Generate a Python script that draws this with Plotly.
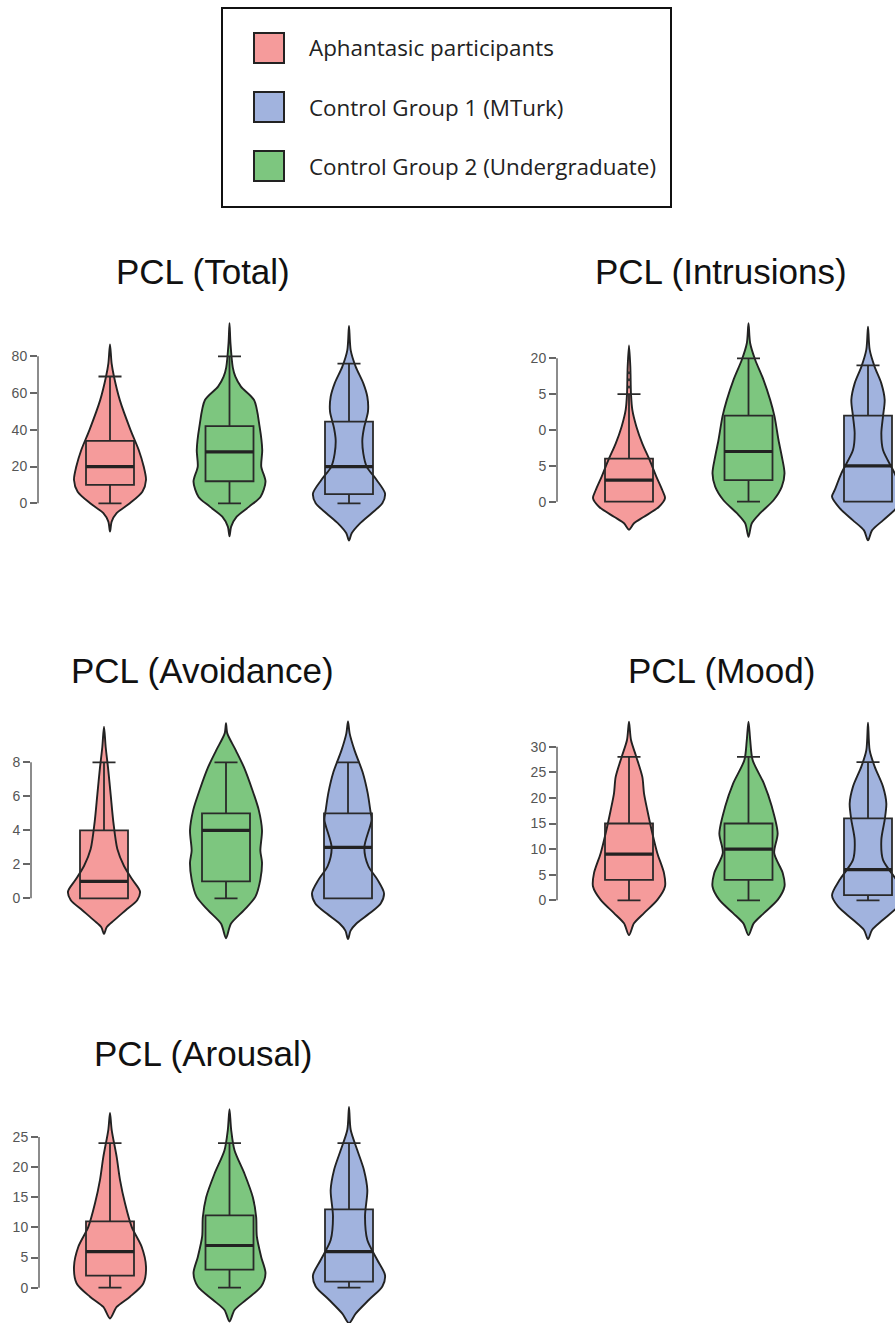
import plotly.graph_objects as go

W, H = 895, 1323

# ---------------- data ----------------
# plot order within each panel: Aphantasic (red), Undergraduate (green), MTurk (blue)
group_names = ["Aphantasic participants", "Control Group 2 (Undergraduate)", "Control Group 1 (MTurk)"]
group_colors = ["#F59B9B", "#7DC67F", "#A1B3DE"]
legend_labels = ["Aphantasic participants", "Control Group 1 (MTurk)", "Control Group 2 (Undergraduate)"]
legend_colors = ["#F59B9B", "#A1B3DE", "#7DC67F"]

panel_titles = ["PCL (Total)", "PCL (Intrusions)", "PCL (Avoidance)", "PCL (Mood)", "PCL (Arousal)"]

# tick values / labels (as printed)
total_ticks = [0, 20, 40, 60, 80]
total_ticktext = ["0", "20", "40", "60", "80"]
intr_ticks = [0, 5, 10, 15, 20]
intr_ticktext = ["0", "5", "0", "5", "20"]
avoid_ticks = [0, 2, 4, 6, 8]
avoid_ticktext = ["0", "2", "4", "6", "8"]
mood_ticks = [0, 5, 10, 15, 20, 25, 30]
mood_ticktext = ["0", "5", "10", "15", "20", "25", "30"]
arou_ticks = [0, 5, 10, 15, 20, 25]
arou_ticktext = ["0", "5", "10", "15", "20", "25"]

# box statistics [aph, undergrad, mturk]
total_q1 = [10, 12, 5]
total_med = [20, 28, 20]
total_q3 = [34, 42, 44.5]
total_lo = [0, 0, 0]
total_hi = [69, 80, 76]

intr_q1 = [0, 3, 0]
intr_med = [3, 7, 5]
intr_q3 = [6, 12, 12]
intr_lo = [0, 0, 0]
intr_hi = [15, 20, 19]
intr_outliers_aph = [16, 17, 18]

avoid_q1 = [0, 1, 0]
avoid_med = [1, 4, 3]
avoid_q3 = [4, 5, 5]
avoid_lo = [0, 0, 0]
avoid_hi = [8, 8, 8]

mood_q1 = [4, 4, 1]
mood_med = [9, 10, 6]
mood_q3 = [15, 15, 16]
mood_lo = [0, 0, 0]
mood_hi = [28, 28, 27]

arou_q1 = [2, 3, 1]
arou_med = [6, 7, 6]
arou_q3 = [11, 12, 13]
arou_lo = [0, 0, 0]
arou_hi = [24, 24, 24]

# violin density profiles: value levels and relative densities
total_aph_y = [86.5, 76, 69, 56, 40, 29, 20, 12.7, 6.3, 0, -5.4, -10, -15.4]
total_aph_d = [0, 5, 12, 30, 62, 87, 102, 109, 98, 60, 20, 5, 0]
total_ug_y = [98, 87, 74, 68.9, 63.5, 56.2, 41.7, 29, 20, 11.8, 3.6, -1.8, -7.3, -12.7, -18]
total_ug_d = [0, 3, 10, 18, 35, 75, 92, 100, 97, 110, 95, 60, 22, 5, 0]
total_mt_y = [96.5, 83.4, 74.4, 65.3, 58, 50, 41, 34.5, 27, 20, 12.7, 5.4, 0, -5.4, -10.9, -16.3, -20.3]
total_mt_d = [0, 5, 20, 43, 55, 57, 45, 40, 43, 53, 83, 108, 100, 68, 33, 8, 0]

intr_aph_y = [21.8, 18.8, 15, 12.8, 10.5, 8.1, 5.8, 3.5, 1.6, 0.5, -0.7, -2.1, -3, -3.9]
intr_aph_d = [0, 4, 6, 10, 22, 40, 62, 82, 100, 108, 90, 45, 15, 0]
intr_ug_y = [24.9, 22.1, 19.8, 17, 14.2, 11.9, 8.6, 6.3, 3.95, 2.1, 0.2, -1.6, -3, -4.9]
intr_ug_d = [0, 5, 20, 45, 65, 78, 90, 100, 108, 100, 75, 35, 10, 0]
intr_mt_y = [24.4, 21.2, 18.8, 16.5, 14.2, 11.9, 9.5, 7.2, 3.95, 1.6, 0.7, -0.9, -2.6, -4, -5.4]
intr_mt_d = [0, 5, 20, 40, 50, 45, 40, 45, 80, 100, 108, 85, 45, 12, 0]

avoid_aph_y = [10.1, 8.9, 7.7, 6.1, 4.5, 2.9, 1.9, 1.1, 0.4, -0.1, -0.7, -1.3, -1.7, -2.1]
avoid_aph_d = [0, 5, 12, 20, 28, 40, 60, 85, 108, 100, 65, 30, 8, 0]
avoid_ug_y = [10.3, 9.7, 8.7, 7.7, 6.4, 5.2, 4, 2.8, 2.1, 1.1, 0.1, -0.7, -1.5, -2.35]
avoid_ug_d = [0, 4, 30, 55, 80, 100, 110, 105, 110, 105, 90, 55, 15, 0]
avoid_mt_y = [10.4, 9.7, 8.7, 7.4, 6.2, 5.2, 4.6, 3, 1.9, 1.1, 0.3, -0.3, -0.9, -1.5, -1.9, -2.4]
avoid_mt_d = [0, 5, 20, 45, 60, 68, 72, 50, 62, 90, 110, 100, 65, 25, 8, 0]

mood_aph_y = [34.9, 31.3, 28, 24.1, 20.9, 17.6, 13.1, 9.2, 5.3, 2.7, 0.07, -2.5, -4.5, -6.8]
mood_aph_d = [0, 6, 22, 40, 45, 55, 70, 85, 105, 108, 85, 45, 15, 0]
mood_ug_y = [34.9, 31.3, 27.4, 22.8, 18.3, 13.1, 9.2, 5.3, 2.7, 0.07, -2.5, -4.5, -6.8]
mood_ug_d = [0, 5, 12, 45, 68, 85, 75, 100, 105, 85, 45, 15, 0]
mood_mt_y = [34.7, 29.3, 26.1, 22.2, 18.9, 15.7, 11.8, 7.9, 4, 1, -1.2, -3.8, -5.8, -7.6]
mood_mt_d = [0, 5, 20, 45, 55, 50, 40, 45, 85, 108, 90, 45, 12, 0]

arou_aph_y = [29, 26.2, 21.7, 17.9, 14, 10.1, 6.8, 3.5, 0.7, -1.5, -3.2, -5.1]
arou_aph_d = [0, 5, 20, 30, 45, 65, 95, 108, 100, 60, 20, 0]
arou_ug_y = [29.6, 26.2, 22.8, 18.9, 15, 11.7, 8.5, 5.1, 2.4, 0.2, -2, -3.7, -5.6]
arou_ug_d = [0, 5, 15, 45, 70, 80, 82, 95, 108, 95, 50, 15, 0]
arou_mt_y = [30, 26.2, 22.8, 19.5, 16.2, 11.8, 7.9, 4.6, 2.1, 0.2, -2, -4.3, -5.9]
arou_mt_d = [0, 5, 25, 45, 55, 48, 55, 85, 108, 100, 60, 20, 0]

# ---------------- layout geometry (pixels) ----------------
panels = [
    dict(title=panel_titles[0], ticks=total_ticks, ticktext=total_ticktext,
         q1=total_q1, med=total_med, q3=total_q3, lo=total_lo, hi=total_hi,
         viol=[(total_aph_y, total_aph_d), (total_ug_y, total_ug_d), (total_mt_y, total_mt_d)],
         axis_px=38, c0=110, sp=119.5, right=440, cal=(0, 503.3, 80, 356.3), rng=(-23, 100),
         title_xy=(203, 272)),
    dict(title=panel_titles[1], ticks=intr_ticks, ticktext=intr_ticktext,
         q1=intr_q1, med=intr_med, q3=intr_q3, lo=intr_lo, hi=intr_hi,
         viol=[(intr_aph_y, intr_aph_d), (intr_ug_y, intr_ug_d), (intr_mt_y, intr_mt_d)],
         axis_px=557, c0=629, sp=119.5, right=895, cal=(0, 501.7, 20, 358.3), rng=(-6.5, 26),
         title_xy=(721, 272), outliers=intr_outliers_aph),
    dict(title=panel_titles[2], ticks=avoid_ticks, ticktext=avoid_ticktext,
         q1=avoid_q1, med=avoid_med, q3=avoid_q3, lo=avoid_lo, hi=avoid_hi,
         viol=[(avoid_aph_y, avoid_aph_d), (avoid_ug_y, avoid_ug_d), (avoid_mt_y, avoid_mt_d)],
         axis_px=31, c0=104, sp=122, right=440, cal=(0, 898.3, 8, 762.3), rng=(-2.8, 10.8),
         title_xy=(202, 670)),
    dict(title=panel_titles[3], ticks=mood_ticks, ticktext=mood_ticktext,
         q1=mood_q1, med=mood_med, q3=mood_q3, lo=mood_lo, hi=mood_hi,
         viol=[(mood_aph_y, mood_aph_d), (mood_ug_y, mood_ug_d), (mood_mt_y, mood_mt_d)],
         axis_px=557, c0=629, sp=119.5, right=895, cal=(0, 900.3, 30, 746.7), rng=(-8.5, 36),
         title_xy=(721, 670)),
    dict(title=panel_titles[4], ticks=arou_ticks, ticktext=arou_ticktext,
         q1=arou_q1, med=arou_med, q3=arou_q3, lo=arou_lo, hi=arou_hi,
         viol=[(arou_aph_y, arou_aph_d), (arou_ug_y, arou_ug_d), (arou_mt_y, arou_mt_d)],
         axis_px=39, c0=110, sp=119.5, right=440, cal=(0, 1287.7, 25, 1137), rng=(-7, 31),
         title_xy=(203, 1053)),
]

VIOLIN_HALF_PX = 36
BOX_HALF_PX = 24
OUTLINE = "#222222"
AXIS_GREY = "#666666"

fig = go.Figure()
layout = dict(width=W, height=H, margin=dict(l=0, r=0, t=0, b=0),
              paper_bgcolor="white", plot_bgcolor="rgba(0,0,0,0)", showlegend=False)
shapes = []
annotations = []

n = len(panels)
for k, p in enumerate(panels):
    i_base = k + 1
    i_ovl = k + 1 + n
    xb, yb = ("x" if i_base == 1 else "x%d" % i_base), ("y" if i_base == 1 else "y%d" % i_base)
    xo, yo = "x%d" % i_ovl, "y%d" % i_ovl

    v0, p0, v1, p1 = p["cal"]
    ppu = (p0 - p1) / (v1 - v0)  # pixels per unit
    lo, hi = p["rng"]
    ptop = p0 - (hi - v0) * ppu
    pbot = p0 + (v0 - lo) * ppu
    if pbot > H:
        pbot = H
        lo = v0 - (pbot - p0) / ppu
    if ptop < 0:
        ptop = 0
        hi = v0 + (p0 - ptop) / ppu
    ydom = [max(0.0, 1 - pbot / H), min(1.0, 1 - ptop / H)]
    xdom = [p["axis_px"] / W, min(1.0, p["right"] / W)]
    xr = [(p["axis_px"] - p["c0"]) / p["sp"], (p["right"] - p["c0"]) / p["sp"]]

    xkey_b = "xaxis" if i_base == 1 else "xaxis%d" % i_base
    ykey_b = "yaxis" if i_base == 1 else "yaxis%d" % i_base
    layout[xkey_b] = dict(domain=xdom, range=xr, visible=False, fixedrange=True)
    layout[ykey_b] = dict(domain=ydom, range=[lo, hi], anchor=xb, showgrid=False, zeroline=False,
                          showline=False, ticks="outside", ticklen=7, tickwidth=1.5,
                          tickcolor=AXIS_GREY, tickvals=p["ticks"], ticktext=p["ticktext"],
                          tickfont=dict(family="Liberation Sans, Arial", size=14, color="#555555"))
    layout["xaxis%d" % i_ovl] = dict(overlaying=xb, range=xr, visible=False, anchor=yo)
    layout["yaxis%d" % i_ovl] = dict(overlaying=yb, range=[lo, hi], visible=False, anchor=xo)

    half_v = VIOLIN_HALF_PX / p["sp"]
    half_b = BOX_HALF_PX / p["sp"]

    for g in range(3):
        stats = dict(x=[g], q1=[p["q1"][g]], median=[p["med"][g]], q3=[p["q3"][g]],
                     lowerfence=[p["lo"][g]], upperfence=[p["hi"][g]],
                     width=2 * half_b, whiskerwidth=0.48, boxpoints=False, orientation="v")
        # box body fill underneath the violin (box layer sits below scatter layer)
        fig.add_trace(go.Box(**stats, fillcolor=group_colors[g],
                             line=dict(color="rgba(0,0,0,0)", width=0),
                             xaxis=xb, yaxis=yb))
        ys, ds = p["viol"][g]
        dmax = max(ds)
        right_x = [g + d / dmax * half_v for d in ds]
        left_x = [g - d / dmax * half_v for d in ds]
        xs = right_x + left_x[::-1][1:]
        yy = list(ys) + list(ys)[::-1][1:]
        fig.add_trace(go.Scatter(x=xs, y=yy, mode="lines", fill="toself",
                                 fillcolor=group_colors[g],
                                 line=dict(color=OUTLINE, width=1.9, shape="spline", smoothing=0.8),
                                 xaxis=xb, yaxis=yb, hoverinfo="skip"))
        # box outline + whiskers on top (overlay subplot)
        fig.add_trace(go.Box(**stats, fillcolor="rgba(0,0,0,0)",
                             line=dict(color="#2a2a2a", width=1.8),
                             xaxis=xo, yaxis=yo))
        fig.add_trace(go.Scatter(x=[g - half_b, g + half_b], y=[p["med"][g], p["med"][g]],
                                 mode="lines", line=dict(color=OUTLINE, width=3.2),
                                 xaxis=xo, yaxis=yo, hoverinfo="skip"))
    if "outliers" in p:
        fig.add_trace(go.Scatter(x=[0] * len(p["outliers"]), y=p["outliers"], mode="markers",
                                 marker=dict(color="#333333", size=3),
                                 xaxis=xo, yaxis=yo, hoverinfo="skip"))

    # trimmed y-axis spine
    shapes.append(dict(type="line", xref="%s domain" % xb, yref=yb, x0=0, x1=0,
                       y0=p["ticks"][0], y1=p["ticks"][-1],
                       line=dict(color=AXIS_GREY, width=1.5)))
    tx, ty = p["title_xy"]
    annotations.append(dict(text=p["title"], x=tx / W, y=1 - ty / H, xref="paper", yref="paper",
                            xanchor="center", yanchor="middle", showarrow=False,
                            font=dict(family="Liberation Sans, Arial", size=35, color="#111111")))

# legend box
shapes.append(dict(type="rect", xref="paper", yref="paper", x0=222 / W, x1=671 / W,
                   y0=1 - 207 / H, y1=1 - 8 / H, line=dict(color="#111111", width=2),
                   fillcolor="rgba(0,0,0,0)"))
row_centers = [48, 107, 166]
for r, (lab, col) in enumerate(zip(legend_labels, legend_colors)):
    cy = row_centers[r]
    shapes.append(dict(type="rect", xref="paper", yref="paper", x0=254 / W, x1=284 / W,
                       y0=1 - (cy + 15) / H, y1=1 - (cy - 15) / H,
                       line=dict(color="#222222", width=2), fillcolor=col))
    annotations.append(dict(text=lab, x=307 / W, y=1 - cy / H, xref="paper", yref="paper",
                            xanchor="left", yanchor="middle", showarrow=False,
                            font=dict(family="Open Sans", size=22.4, color="#222222")))

layout["shapes"] = shapes
layout["annotations"] = annotations
fig.update_layout(**layout)
fig.write_html("out.html")
